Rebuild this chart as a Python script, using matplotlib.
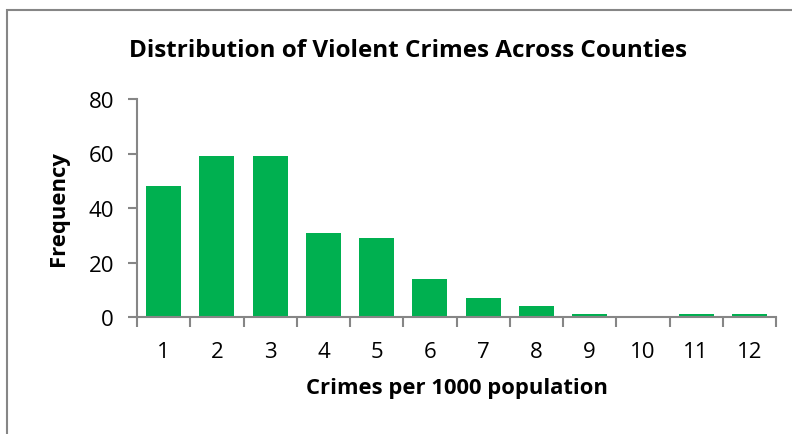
"""Histogram of violent crimes per 1000 population across counties."""

import matplotlib

matplotlib.use("Agg")

import matplotlib.pyplot as plt
import numpy as np
from matplotlib.patches import Rectangle

bins = ["1", "2", "3", "4", "5", "6", "7", "8", "9", "10", "11", "12"]
frequency = [48, 59, 59, 31, 29, 14, 7, 4, 1, 0, 1, 1]

GREEN = "#00B050"
GRAY = "#868686"

plt.rcParams["font.family"] = ["Open Sans", "DejaVu Sans"]

fig = plt.figure(figsize=(7.92, 4.35), dpi=100)
ax = fig.add_axes([137 / 792, 1 - 318 / 435, (776 - 137) / 792, (318 - 100) / 435])

x = np.arange(len(bins))
ax.bar(x, frequency, width=0.66, color=GREEN, zorder=2)

ax.set_xlim(-0.5, len(bins) - 0.5)
ax.set_ylim(0, 80)
ax.set_yticks([0, 20, 40, 60, 80])
ax.set_xticks(x)
ax.set_xticklabels(bins)
ax.set_xticks(np.arange(len(bins) + 1) - 0.5, minor=True)

for side in ["top", "right"]:
    ax.spines[side].set_visible(False)
for side in ["left", "bottom"]:
    ax.spines[side].set_color(GRAY)
    ax.spines[side].set_linewidth(1.5)

ax.tick_params(axis="x", which="major", length=0, pad=17, labelsize=16)
ax.tick_params(axis="x", which="minor", length=7, width=1.5, color=GRAY)
ax.tick_params(axis="y", length=6.5, width=1.5, color=GRAY, labelsize=16, pad=10)

ax.set_xlabel("Crimes per 1000 population", fontsize=15.8, fontweight="bold", labelpad=11)
ax.set_ylabel("Frequency", fontsize=15.8, fontweight="bold", labelpad=14)
fig.text(408 / 792, 1 - 51 / 435, "Distribution of Violent Crimes Across Counties",
         ha="center", va="center", fontsize=17.5, fontweight="bold")

fig.patches.append(Rectangle((7 / 792, -0.1), 1.2, 1 - 11 / 435 + 0.1, transform=fig.transFigure,
                             fill=False, edgecolor=GRAY, linewidth=1.5))

fig.savefig("out.png", dpi=100)
